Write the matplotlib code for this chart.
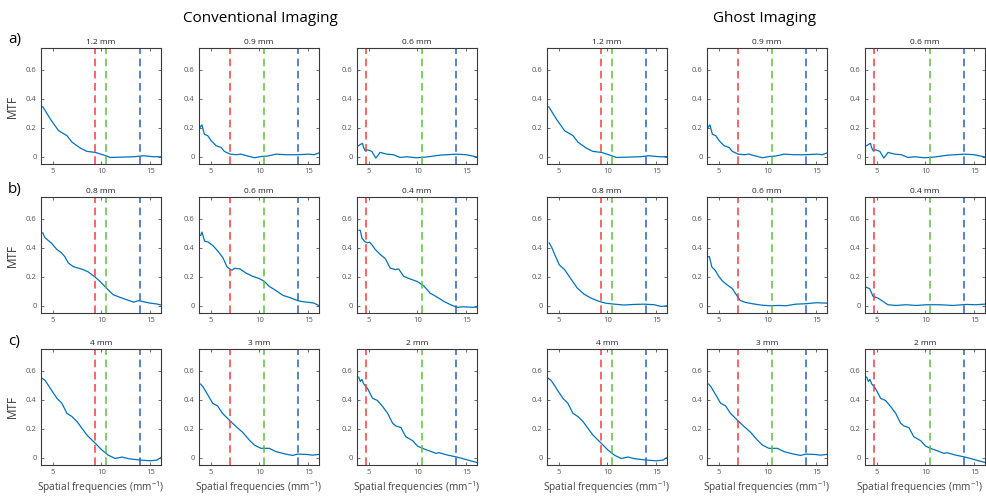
import matplotlib
matplotlib.use("Agg")
import matplotlib.pyplot as plt

plt.rcParams['font.family'] = ['Open Sans', 'DejaVu Sans']
plt.rcParams['mathtext.default'] = 'regular'

# resolution limits (dashed lines), one per column of each group
red_lines = [9.35, 6.95, 4.72]
green_line = 10.48
blue_line = 13.97

row_labels = ["a)", "b)", "c)"]
titles = [["1.2 mm", "0.9 mm", "0.6 mm"],
          ["0.8 mm", "0.6 mm", "0.4 mm"],
          ["4 mm", "3 mm", "2 mm"]]

# --- Conventional imaging ---
conv_a1_x = [3.98, 4.76, 5.6, 6.47, 6.98, 7.83, 8.5, 9.37, 10.2, 10.9, 11.9, 13.3, 14.3, 15.3, 16.1]
conv_a1_y = [0.345, 0.26, 0.18, 0.145, 0.10, 0.06, 0.037, 0.03, 0.012, -0.005, -0.003, 0.0, 0.007, 0.0, 0.0]
conv_a2_x = [3.87, 4.1, 4.35, 4.7, 5.05, 5.56, 6.07, 6.4, 7.0, 7.6, 8.1, 8.8, 9.5, 10.2, 10.85, 11.7, 12.7, 13.9, 15.1, 15.6, 16.05]
conv_a2_y = [0.20, 0.22, 0.155, 0.145, 0.11, 0.076, 0.064, 0.037, 0.018, 0.014, 0.018, 0.005, -0.007, 0.002, 0.005, 0.018, 0.014, 0.014, 0.018, 0.014, 0.025]
conv_a3_x = [3.97, 4.2, 4.37, 4.47, 4.64, 4.88, 5.32, 5.73, 6.17, 6.85, 7.53, 8.2, 8.9, 9.9, 10.9, 12.3, 14.0, 15.0, 16.1]
conv_a3_y = [0.076, 0.087, 0.092, 0.064, 0.041, 0.048, 0.037, -0.009, 0.03, 0.018, 0.014, -0.005, 0.0, -0.007, -0.002, 0.011, 0.018, 0.014, -0.002]

conv_b1_x = [3.98, 4.2, 4.55, 4.9, 5.4, 5.9, 6.26, 6.6, 7.1, 7.6, 8.1, 8.65, 9.34, 9.85, 10.5, 11.2, 11.9, 12.6, 13.3, 13.8, 14.3, 15.0, 15.7, 16.1]
conv_b1_y = [0.503, 0.47, 0.45, 0.43, 0.39, 0.365, 0.337, 0.295, 0.27, 0.26, 0.25, 0.233, 0.198, 0.168, 0.122, 0.076, 0.058, 0.041, 0.025, 0.035, 0.028, 0.018, 0.012, 0.005]
conv_b2_x = [3.97, 4.1, 4.38, 4.72, 5.23, 5.74, 6.26, 6.67, 6.94, 7.17, 7.45, 8.0, 8.6, 9.3, 10.0, 10.5, 11.0, 11.7, 12.4, 13.25, 13.93, 14.45, 15.1, 15.6, 16.05]
conv_b2_y = [0.485, 0.508, 0.445, 0.44, 0.415, 0.376, 0.33, 0.268, 0.254, 0.245, 0.258, 0.254, 0.226, 0.203, 0.187, 0.168, 0.134, 0.104, 0.072, 0.053, 0.035, 0.028, 0.023, 0.018, 0.002]
conv_b3_x = [4.0, 4.14, 4.3, 4.55, 4.83, 5.1, 5.34, 5.68, 6.2, 6.7, 7.2, 7.73, 8.07, 8.58, 9.27, 9.95, 10.63, 11.3, 12.0, 12.7, 13.4, 14.05, 14.7, 15.6, 16.1]
conv_b3_y = [0.52, 0.52, 0.468, 0.445, 0.434, 0.438, 0.42, 0.387, 0.353, 0.325, 0.26, 0.249, 0.254, 0.203, 0.184, 0.168, 0.138, 0.087, 0.06, 0.03, 0.007, -0.011, -0.007, -0.011, -0.009]

conv_c1_x = [3.9, 4.23, 4.74, 5.43, 5.94, 6.45, 6.97, 7.5, 8.0, 8.5, 9.37, 10.05, 10.7, 11.4, 12.1, 12.8, 14.0, 15.0, 15.7, 16.1]
conv_c1_y = [0.549, 0.533, 0.48, 0.41, 0.376, 0.307, 0.284, 0.249, 0.203, 0.157, 0.099, 0.053, 0.018, -0.005, 0.005, -0.007, -0.016, -0.021, -0.016, 0.002]
conv_c2_x = [3.97, 4.2, 4.7, 5.2, 5.7, 6.2, 6.9, 7.6, 8.28, 8.96, 9.47, 10.15, 11.0, 11.7, 12.7, 13.4, 13.9, 14.8, 15.45, 16.05]
conv_c2_y = [0.508, 0.49, 0.434, 0.376, 0.358, 0.307, 0.26, 0.215, 0.175, 0.122, 0.088, 0.065, 0.065, 0.042, 0.025, 0.016, 0.025, 0.023, 0.018, 0.023]
conv_c3_x = [3.97, 4.14, 4.3, 4.48, 4.9, 5.4, 5.9, 6.43, 6.94, 7.45, 7.8, 8.3, 8.8, 9.5, 10.0, 10.5, 11.2, 11.9, 12.2, 13.1, 13.9, 14.6, 15.45, 16.05]
conv_c3_y = [0.556, 0.526, 0.54, 0.51, 0.475, 0.41, 0.395, 0.353, 0.307, 0.238, 0.219, 0.208, 0.145, 0.118, 0.081, 0.065, 0.048, 0.03, 0.035, 0.018, 0.007, -0.005, -0.021, -0.032]

# --- Ghost imaging (rows a and c match the conventional curves) ---
ghost_b1_x = [4.03, 4.3, 4.6, 5.05, 5.6, 6.2, 6.9, 7.6, 8.3, 9.15, 9.8, 10.7, 11.7, 12.7, 13.75, 14.8, 15.5, 16.1]
ghost_b1_y = [0.433, 0.40, 0.352, 0.283, 0.249, 0.19, 0.122, 0.08, 0.053, 0.03, 0.018, 0.011, 0.005, 0.009, 0.011, 0.007, -0.005, 0.0]
ghost_b2_x = [3.9, 4.04, 4.3, 4.65, 5.0, 5.35, 5.85, 6.4, 6.8, 7.2, 7.76, 8.45, 9.3, 10.2, 11.2, 11.9, 12.9, 13.95, 15.0, 16.1]
ghost_b2_y = [0.336, 0.34, 0.267, 0.244, 0.203, 0.173, 0.145, 0.118, 0.076, 0.037, 0.023, 0.014, 0.005, 0.0, 0.002, 0.0, 0.011, 0.014, 0.021, 0.018]
ghost_b3_x = [3.94, 4.28, 4.62, 5.13, 5.64, 6.15, 7.0, 8.0, 9.07, 10.1, 11.45, 12.8, 14.2, 15.2, 16.05]
ghost_b3_y = [0.127, 0.118, 0.065, 0.053, 0.03, 0.007, 0.002, 0.007, 0.002, 0.007, 0.007, 0.002, 0.009, 0.007, 0.011]

curves = [
    [(conv_a1_x, conv_a1_y), (conv_a2_x, conv_a2_y), (conv_a3_x, conv_a3_y),
     (conv_a1_x, conv_a1_y), (conv_a2_x, conv_a2_y), (conv_a3_x, conv_a3_y)],
    [(conv_b1_x, conv_b1_y), (conv_b2_x, conv_b2_y), (conv_b3_x, conv_b3_y),
     (ghost_b1_x, ghost_b1_y), (ghost_b2_x, ghost_b2_y), (ghost_b3_x, ghost_b3_y)],
    [(conv_c1_x, conv_c1_y), (conv_c2_x, conv_c2_y), (conv_c3_x, conv_c3_y),
     (conv_c1_x, conv_c1_y), (conv_c2_x, conv_c2_y), (conv_c3_x, conv_c3_y)],
]

W, H = 986, 498
fig = plt.figure(figsize=(W / 100, H / 100), dpi=100)

col_left = [41, 199, 357, 547, 707, 865]
row_top = [48, 197, 349]
aw, ah = 120, 116
xlabel_centers = [101, 259, 417, 607, 767, 920]

for r in range(3):
    for c in range(6):
        x0, y0 = col_left[c], row_top[r]
        ax = fig.add_axes([x0 / W, 1 - (y0 + ah) / H, aw / W, ah / H])
        xs, ys = curves[r][c]
        ax.plot(xs, ys, color='#0072BD', lw=0.9)
        ax.axvline(red_lines[c % 3], color='#F0403C', ls=(0, (5, 3)), lw=1.1)
        ax.axvline(green_line, color='#5EC23A', ls=(0, (5, 3)), lw=1.1)
        ax.axvline(blue_line, color='#2A62C0', ls=(0, (5, 3)), lw=1.1)
        ax.set_xlim(3.8, 16.1)
        ax.set_ylim(-0.05, 0.75)
        ax.set_xticks([5, 10, 15])
        ax.set_yticks([0, 0.2, 0.4, 0.6])
        ax.set_yticklabels(['0', '0.2', '0.4', '0.6'])
        ax.tick_params(direction='in', length=2.5, width=0.6, labelsize=5.5,
                       colors='#555555', top=True, right=True, pad=3)
        for s in ax.spines.values():
            s.set_color('#3a3a3a')
            s.set_linewidth(0.8)
        ax.set_title(titles[r][c % 3], fontsize=6, color='#222222', pad=3)
        if c == 0:
            ax.set_ylabel('MTF', fontsize=8.5, color='#333333', labelpad=5)

for cx in xlabel_centers:
    fig.text(cx / W, 1 - 488 / H, 'Spatial frequencies (mm$^{-1}$)',
             fontsize=7.3, color='#444444', ha='center', va='center')

for r in range(3):
    fig.text(8 / W, 1 - (row_top[r] - 8) / H, row_labels[r], fontsize=11,
             va='center', ha='left')

fig.text(260 / W, 1 - 18 / H, 'Conventional Imaging', fontsize=11,
         ha='center', va='center')
fig.text(765 / W, 1 - 18 / H, 'Ghost Imaging', fontsize=11,
         ha='center', va='center')

fig.savefig('out.png', dpi=100)
